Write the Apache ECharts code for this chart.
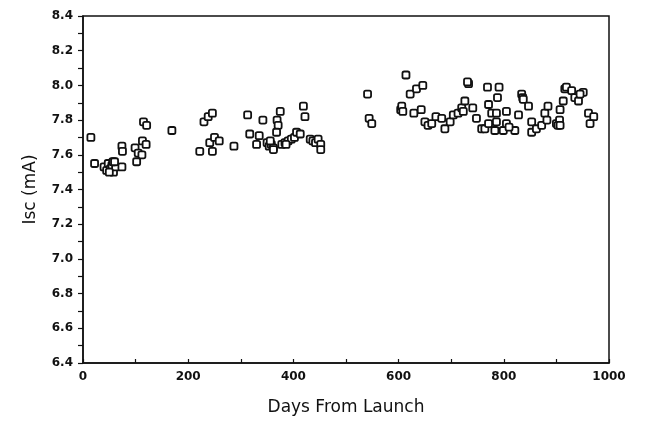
<!DOCTYPE html>
<html>
<head>
<meta charset="utf-8">
<script src="https://cdn.jsdelivr.net/npm/echarts@6/dist/echarts.min.js"></script>
<style>
  html, body { margin: 0; padding: 0; background: #fff; }
  #chart { width: 645px; height: 422px; }
</style>
</head>
<body>
<div id="chart"></div>
<script>
// days from launch
var days = [
    15, 22, 40, 45, 48, 52, 55, 58, 62, 50, 57, 60,
    74, 75, 74, 115, 121, 113, 120, 99, 105, 112, 102, 169,
    222, 246, 241, 250, 259, 230, 238, 246, 287, 313, 317, 335, 330, 342,
    350, 354, 358, 362, 356, 362, 375, 369, 371, 368,
    378, 384, 390, 396, 402, 386, 406, 419, 422, 413,
    432, 437, 442, 447, 452, 452, 541, 544, 549,
    604, 606, 608, 614, 622, 634, 646, 629, 643, 650, 656, 663, 671, 682,
    688, 698, 704, 713, 720, 726, 723, 733, 731, 741, 748, 758, 764,
    769, 791, 788, 771, 777, 786, 771, 786, 783, 799, 805, 805,
    834, 836, 837, 828, 847, 821, 810, 853, 853, 862, 872, 878, 884, 882,
    900, 906, 903, 907, 907, 913, 916, 919, 929, 935, 942, 951, 945,
    961, 971, 964
];
// Isc in mA, same order
var isc = [
    7.70, 7.55, 7.53, 7.51, 7.55, 7.52, 7.54, 7.50, 7.53, 7.50, 7.56, 7.56,
    7.65, 7.62, 7.53, 7.79, 7.77, 7.68, 7.66, 7.64, 7.61, 7.60, 7.56, 7.74,
    7.62, 7.62, 7.67, 7.70, 7.68, 7.79, 7.82, 7.84, 7.65, 7.83, 7.72, 7.71, 7.66, 7.80,
    7.67, 7.65, 7.66, 7.64, 7.68, 7.63, 7.85, 7.80, 7.77, 7.73,
    7.66, 7.67, 7.68, 7.69, 7.70, 7.66, 7.73, 7.88, 7.82, 7.72,
    7.69, 7.68, 7.67, 7.69, 7.66, 7.63, 7.95, 7.81, 7.78,
    7.86, 7.88, 7.85, 8.06, 7.95, 7.98, 8.00, 7.84, 7.86, 7.79, 7.77, 7.78, 7.82, 7.81,
    7.75, 7.79, 7.83, 7.84, 7.87, 7.91, 7.85, 8.01, 8.02, 7.87, 7.81, 7.75, 7.75,
    7.99, 7.99, 7.93, 7.89, 7.84, 7.84, 7.78, 7.79, 7.74, 7.74, 7.85, 7.78,
    7.95, 7.93, 7.92, 7.83, 7.88, 7.74, 7.76, 7.79, 7.73, 7.75, 7.77, 7.84, 7.88, 7.80,
    7.78, 7.80, 7.77, 7.77, 7.86, 7.91, 7.98, 7.99, 7.97, 7.93, 7.91, 7.96, 7.95,
    7.84, 7.82, 7.78
];

var points = [];
for (var i = 0; i < days.length; i++) {
    points.push([days[i], isc[i]]);
}

var chart = echarts.init(document.getElementById('chart'));
var ink = '#111';
var font = 'DejaVu Sans';

chart.setOption({
    animation: false,
    grid: {
        left: 83, right: 36, top: 16, bottom: 59,
        show: true, borderColor: ink, borderWidth: 1.5, backgroundColor: 'transparent'
    },
    xAxis: {
        type: 'value',
        min: 0, max: 1000, interval: 200,
        name: 'Days From Launch',
        nameLocation: 'middle',
        nameGap: 36,
        nameTextStyle: { color: ink, fontFamily: font, fontSize: 17, letterSpacing: 1 },
        axisLine: { lineStyle: { color: ink, width: 1.5 } },
        axisTick: { inside: true, length: 4, lineStyle: { color: ink, width: 1.2 } },
        minorTick: { show: true, splitNumber: 2, length: 4, lineStyle: { color: ink, width: 1.2 } },
        axisLabel: {
            color: ink, fontFamily: font, fontSize: 12, fontWeight: 'bold', margin: 8,
            formatter: function (v) { return String(v); }
        },
        splitLine: { show: false }
    },
    yAxis: {
        type: 'value',
        min: 6.4, max: 8.4, interval: 0.2,
        name: 'Isc (mA)',
        nameLocation: 'middle',
        nameGap: 44,
        nameTextStyle: { color: ink, fontFamily: font, fontSize: 17, letterSpacing: 1 },
        axisLine: { lineStyle: { color: ink, width: 1.5 } },
        axisTick: { length: 5, lineStyle: { color: ink, width: 1.2 } },
        minorTick: { show: true, splitNumber: 2, length: 5, lineStyle: { color: ink, width: 1.2 } },
        axisLabel: {
            color: ink, fontFamily: font, fontSize: 12, fontWeight: 'bold', margin: 10,
            formatter: function (v) { return v.toFixed(1); }
        },
        splitLine: { show: false }
    },
    series: [{
        type: 'scatter',
        data: points,
        symbol: 'roundRect',
        symbolSize: 7,
        itemStyle: { color: '#fff', borderColor: ink, borderWidth: 1.8, opacity: 1 }
    }]
});
</script>
</body>
</html>
